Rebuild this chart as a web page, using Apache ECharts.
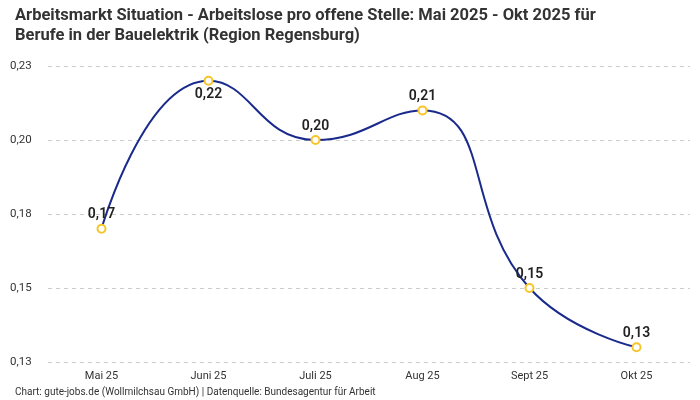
<!DOCTYPE html>
<html>
<head>
<meta charset="utf-8">
<script src="https://cdn.jsdelivr.net/npm/echarts@6/dist/echarts.min.js"></script>
<style>html,body{margin:0;padding:0;background:#fff}#c{width:700px;height:400px}</style>
</head>
<body>
<div id="c"></div>
<script>
const categories = ['Mai 25', 'Juni 25', 'Juli 25', 'Aug 25', 'Sept 25', 'Okt 25'];
const values = [0.17, 0.22, 0.20, 0.21, 0.15, 0.13];
const labelPositions = ['top', 'bottom', 'top', 'top', 'top', 'top'];

const fmt = v => (Math.round(v * 100) / 100).toFixed(2).replace('.', ',');
const FONT = 'Roboto, "Noto Sans", sans-serif';

const chart = echarts.init(document.getElementById('c'));
chart.setOption({
  animation: false,
  textStyle: { fontFamily: FONT },
  title: [{
    text: 'Arbeitsmarkt Situation - Arbeitslose pro offene Stelle: Mai 2025 - Okt 2025 für\nBerufe in der Bauelektrik (Region Regensburg)',
    left: 10, top: 1,
    textStyle: { fontSize: 16.5, fontWeight: 'bold', color: '#333', lineHeight: 20, fontFamily: FONT }
  }, {
    text: 'Chart: gute-jobs.de (Wollmilchsau GmbH) | Datenquelle: Bundesagentur für Arbeit',
    left: 10, top: 382,
    textStyle: { fontSize: 10, fontWeight: 'normal', color: '#333', fontFamily: FONT }
  }],
  grid: { left: 48, right: 10, top: 66, bottom: 38 },
  xAxis: {
    type: 'category',
    data: categories,
    boundaryGap: true,
    axisLine: { show: false },
    axisTick: { show: false },
    axisLabel: { color: '#333', fontSize: 11, margin: 9 }
  },
  yAxis: {
    type: 'value',
    min: 0.125, max: 0.225, interval: 0.025,
    axisLine: { show: false },
    axisTick: { show: false },
    splitLine: { lineStyle: { type: [4, 4], color: '#ccc' } },
    axisLabel: { color: '#333', fontSize: 11.5, align: 'left', margin: 38, formatter: fmt }
  },
  series: [{
    type: 'line',
    data: values.map((v, i) => ({ value: v, label: { position: labelPositions[i] } })),
    smooth: true,
    symbol: 'emptyCircle',
    symbolSize: 8,
    lineStyle: { color: '#1a2a8c', width: 2 },
    itemStyle: { color: '#f7c52a', borderColor: '#f7c52a', borderWidth: 1.5 },
    label: { show: true, formatter: p => fmt(p.value), fontSize: 14, fontWeight: 600, color: '#222', distance: 2 }
  }]
});
</script>
</body>
</html>
